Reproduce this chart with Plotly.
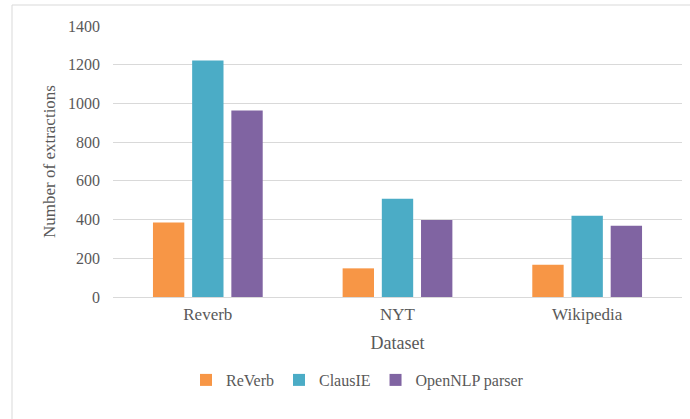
import plotly.graph_objects as go

categories = ["Reverb", "NYT", "Wikipedia"]
reverb = [385, 148, 166]
clausie = [1222, 508, 420]
opennlp = [964, 398, 368]
series_names = ["ReVerb", "ClausIE", "OpenNLP parser"]
colors = ["#F79646", "#4BACC6", "#8064A2"]
yticks = [0, 200, 400, 600, 800, 1000, 1200, 1400]

FF = "'Times New Roman', 'Liberation Serif', 'DejaVu Serif', serif"
gray = "#595959"

fig = go.Figure()
for name, vals, col in zip(series_names, [reverb, clausie, opennlp], colors):
    fig.add_trace(go.Bar(x=categories, y=vals, name=name, marker=dict(color=col, line=dict(width=0))))

W, H = 690, 419
ml, mr, mt, mb = 113, 8, 26, 122
pw = W - ml - mr
ph = H - mt - mb

fig.update_layout(
    width=W, height=H,
    margin=dict(l=ml, r=mr, t=mt, b=mb),
    paper_bgcolor="white", plot_bgcolor="white",
    barmode="group", bargap=0.38, bargroupgap=0.2,
    font=dict(family=FF, color=gray, size=16),
    xaxis=dict(
        title=dict(text="Dataset", font=dict(family=FF, size=18, color=gray), standoff=12),
        tickfont=dict(family=FF, size=17, color=gray),
        ticklabelstandoff=2,
        showline=True, linecolor="#d9d9d9", linewidth=1,
        ticks="", showgrid=False,
    ),
    yaxis=dict(
        title=dict(text="Number of extractions", font=dict(family=FF, size=17, color=gray), standoff=8),
        range=[0, 1400], tickvals=yticks,
        tickfont=dict(family=FF, size=16, color=gray),
        ticklabelstandoff=12,
        showgrid=True, gridcolor="#d9d9d9", gridwidth=1,
        zeroline=False, showline=False, ticks="",
    ),
    showlegend=True,
    legend=dict(
        orientation="h", x=(186 - ml) / pw, xanchor="left", y=-(380 - mt - ph) / ph, yanchor="middle",
        font=dict(family=FF, size=16, color=gray), traceorder="normal",
        itemwidth=30,
    ),
)

# outer chart border
x0 = (12 - ml) / pw
x1 = (W + 5 - ml) / pw
y1 = (mt + ph - 5) / ph
y0 = -(H + 5 - mt - ph) / ph
fig.add_shape(type="rect", xref="paper", yref="paper", x0=x0, x1=x1, y0=y0, y1=y1,
              line=dict(color="#d9d9d9", width=1), fillcolor="rgba(0,0,0,0)", layer="below")

fig.write_html("out.html")
